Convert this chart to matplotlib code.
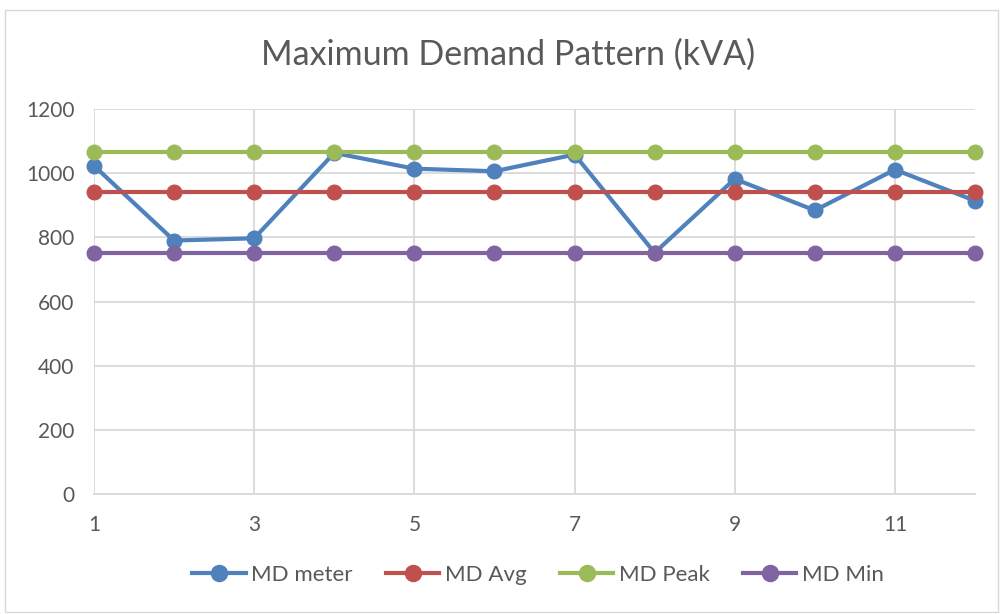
import matplotlib
matplotlib.use('Agg')
import matplotlib.pyplot as plt
from matplotlib.patches import Rectangle

plt.rcParams['font.family'] = ['Lato', 'DejaVu Sans']

months = [1, 2, 3, 4, 5, 6, 7, 8, 9, 10, 11, 12]
md_meter = [1023, 790, 797, 1063, 1014, 1006, 1058, 752, 982, 884, 1011, 914]
md_avg = [940] * 12
md_peak = [1067] * 12
md_min = [751] * 12

series = [
    ('MD meter', md_meter, '#4F81BD'),
    ('MD Avg', md_avg, '#C0504D'),
    ('MD Peak', md_peak, '#9BBB59'),
    ('MD Min', md_min, '#8064A2'),
]
text_col = '#595959'
grid_col = '#D9D9D9'

fig = plt.figure(figsize=(10.05, 6.14), dpi=100)
ax = fig.add_axes([94 / 1005, 1 - 494 / 614, (975 - 94) / 1005, (494 - 109) / 614])

for name, vals, col in series:
    ax.plot(months, vals, '-o', color=col, lw=3, ms=10.5, label=name, clip_on=False)

ax.set_xlim(1, 12)
ax.set_ylim(0, 1200)
ax.set_xticks([1, 3, 5, 7, 9, 11])
ax.set_yticks(range(0, 1201, 200))
ax.grid(True, color=grid_col, lw=1.3)
ax.set_axisbelow(True)
for s in ['top', 'right', 'left']:
    ax.spines[s].set_visible(False)
ax.spines['bottom'].set_color(grid_col)
ax.spines['bottom'].set_linewidth(1.3)
ax.tick_params(length=0, labelsize=15, colors=text_col)
ax.tick_params(axis='x', pad=15)
ax.tick_params(axis='y', pad=14)

fig.text(508 / 1005, 1 - 55 / 614, 'Maximum Demand Pattern (kVA)', ha='center', va='center',
         fontsize=24.5, color=text_col)

ax.legend(loc='center', bbox_to_anchor=(538 / 1005, 1 - 575 / 614), bbox_transform=fig.transFigure,
          ncol=4, frameon=False, fontsize=16, labelcolor=text_col, handlelength=2.4,
          handletextpad=0.25, columnspacing=1.5, markerscale=1.1)

fig.patches.append(Rectangle((5 / 1005, 2 / 614), 993 / 1005, 602 / 614,
                             transform=fig.transFigure, fill=False,
                             edgecolor='#D9D9D9', lw=1))

fig.savefig('out.png', dpi=100)
